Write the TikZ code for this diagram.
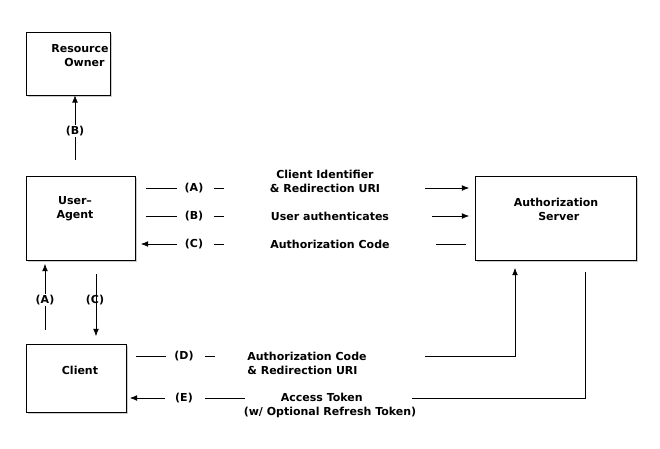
\documentclass[tikz,border=0pt]{standalone}
\usepackage{fontspec}
\setmainfont{DejaVu Sans}
\usetikzlibrary{arrows.meta,positioning,calc,shadows}

\begin{document}
\begin{tikzpicture}[x=1pt,y=-1pt,
  box/.style={rectangle, draw, thick, fill=white, inner sep=0pt,
    drop shadow={shadow xshift=2pt, shadow yshift=-2pt, fill=gray!40, opacity=1}},
  lbl/.style={inner sep=0pt, font=\bfseries\fontsize{11}{14}\selectfont, align=center},
  arrow/.style={-{Latex[length=2.5mm,width=2mm]}, semithick},
  wire/.style={semithick},
]
\useasboundingbox (0,0) rectangle (660,448);

% boxes
\node[box, minimum width=84pt, minimum height=63pt] (owner) at (68,63.5) {};
\node[box, minimum width=109pt, minimum height=84pt] (agent) at (80.5,218) {};
\node[box, minimum width=161pt, minimum height=84pt] (server) at (555.5,218) {};
\node[box, minimum width=100pt, minimum height=68pt] (client) at (76,378) {};
\node[lbl] (ownert) at (80,56) {Resource\\\hspace{0.8em}Owner};
\node[lbl] (agentt) at (75,209) {User–\\Agent};
\node[lbl] (servert) at (556,209) {Authorization\\\hspace{0.5em}Server};
\node[lbl] (clientt) at (80,370) {Client};

% step B to the resource owner
\coordinate (b0) at (75,160);
\draw[arrow] (b0) -- (b0 |- owner.south);
\node[lbl, fill=white, inner sep=1pt] (lb) at (75,131) {(B)};

% steps A and C between client and user-agent
\coordinate (a0) at (45,330); \coordinate (a1) at (45,264);
\draw[arrow] (a0) -- (a1);
\node[lbl, fill=white, inner sep=1pt] (la) at (45,300) {(A)};
\coordinate (c0) at (96,274); \coordinate (c1) at (96,336);
\draw[arrow] (c0) -- (c1);
\node[lbl] (lc) at (95,300) {(C)};

% rows between user-agent and server
\foreach \y/\s in {188/A, 216/B, 244/C}{
  \node[lbl] (row\s) at (194,\y) {(\s)};
  \coordinate (row\s w) at (214,\y); \coordinate (row\s e) at (224,\y);
  \draw[wire] (row\s w) -- (row\s e);
}
\coordinate (ra0) at (146,188); \coordinate (ra1) at (177,188);
\draw[wire] (ra0) -- (ra1);
\node[lbl] (ta) at (325,181) {Client Identifier\\\& Redirection URI};
\coordinate (ra2) at (425,188); \coordinate (ra3) at (469,188);
\draw[arrow] (ra2) -- (ra3);

\coordinate (rb0) at (146,216); \coordinate (rb1) at (177,216);
\draw[wire] (rb0) -- (rb1);
\node[lbl] (tb) at (330,216) {User authenticates};
\coordinate (rb2) at (432,216); \coordinate (rb3) at (469,216);
\draw[arrow] (rb2) -- (rb3);

\coordinate (rc0) at (177,244); \coordinate (rc1) at (141,244);
\draw[arrow] (rc0) -- (rc1);
\node[lbl] (tc) at (330,244) {Authorization Code};
\coordinate (rc2) at (436,244); \coordinate (rc3) at (466,244);
\draw[wire] (rc2) -- (rc3);

% step D
\coordinate (d0) at (136,356); \coordinate (d1) at (166,356);
\draw[wire] (d0) -- (d1);
\node[lbl] (ld) at (184,356) {(D)};
\coordinate (d2) at (205,356); \coordinate (d3) at (215,356);
\draw[wire] (d2) -- (d3);
\node[lbl, align=left] (td) at (307,363) {Authorization Code\\\& Redirection URI};
\coordinate (d4) at (425,356); \coordinate (d5) at (515,356); \coordinate (d6) at (515,268);
\draw[arrow] (d4) -- (d5) -- (d6);

% step E
\coordinate (e0) at (165,398); \coordinate (e1) at (130,398);
\draw[arrow] (e0) -- (e1);
\node[lbl] (le) at (184,398) {(E)};
\coordinate (e2) at (205,398); \coordinate (e3) at (245,398);
\draw[wire] (e2) -- (e3);
\node[lbl] (te) at (330,405) {\hspace{-1.5em}Access Token\\(w/ Optional Refresh Token)};
\coordinate (e4) at (412,398); \coordinate (e5) at (585,398); \coordinate (e6) at (585,272);
\draw[wire] (e4) -- (e5) -- (e6);
\end{tikzpicture}
\end{document}
